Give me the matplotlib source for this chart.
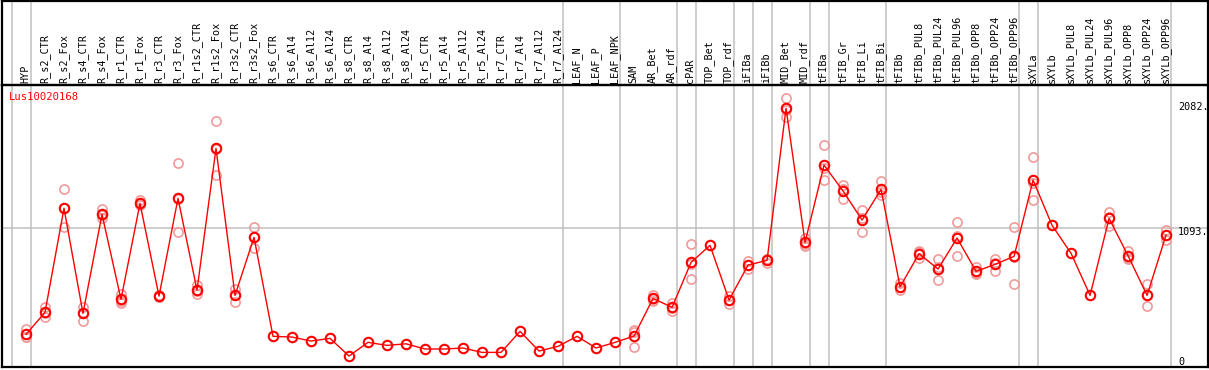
import matplotlib
matplotlib.use("Agg")
import matplotlib.pyplot as plt
from matplotlib.transforms import blended_transform_factory

title = "Lus10020168"
categories = ["HYP", "R_s2_CTR", "R_s2_Fox", "R_s4_CTR", "R_s4_Fox", "R_r1_CTR", "R_r1_Fox",
              "R_r3_CTR", "R_r3_Fox", "R_r1s2_CTR", "R_r1s2_Fox", "R_r3s2_CTR", "R_r3s2_Fox",
              "R_s6_CTR", "R_s6_Al4", "R_s6_Al12", "R_s6_Al24", "R_s8_CTR", "R_s8_Al4",
              "R_s8_Al12", "R_s8_Al24", "R_r5_CTR", "R_r5_Al4", "R_r5_Al12", "R_r5_Al24",
              "R_r7_CTR", "R_r7_Al4", "R_r7_Al12", "R_r7_Al24", "LEAF_N", "LEAF_P", "LEAF_NPK",
              "SAM", "AR_Bet", "AR_rdf", "cPAR", "TOP_Bet", "TOP_rdf", "iFIBa", "iFIBb",
              "MID_Bet", "MID_rdf", "tFIBa", "tFIB_Gr", "tFIB_Li", "tFIB_Bi", "tFIBb",
              "tFIBb_PUL8", "tFIBb_PUL24", "tFIBb_PUL96", "tFIBb_OPP8", "tFIBb_OPP24",
              "tFIBb_OPP96", "sXYLa", "sXYLb", "sXYLb_PUL8", "sXYLb_PUL24", "sXYLb_PUL96",
              "sXYLb_OPP8", "sXYLb_OPP24", "sXYLb_OPP96"]

means = [210, 392, 1254, 384, 1204, 500, 1295, 527, 1336, 577, 1750, 533, 1013,
         194, 188, 155, 177, 31, 144, 119, 132, 89, 89, 97, 61, 61, 235, 72, 111,
         194, 97, 144, 196, 508, 434, 806, 947, 494, 784, 823, 2082, 972, 1612,
         1397, 1157, 1411, 604, 878, 751, 1008, 732, 790, 856, 1488, 1113, 881,
         533, 1171, 861, 533, 1033]

replicates = [[254, 190, 186], [439, 386, 351], [1411, 1254, 1096], [439, 390, 323],
              [1245, 1196, 1171], [544, 484, 472], [1322, 1290, 1281], [535, 527, 520],
              [1626, 1327, 1055], [619, 570, 542], [1974, 1747, 1529], [585, 540, 475],
              [1099, 1018, 922],
              [], [], [], [], [], [], [], [], [], [], [], [], [], [], [], [],
              [], [], [],
              [246, 227, 108], [536, 500, 489], [467, 430, 406], [956, 796, 666],
              [], [527, 496, 459], [817, 784, 751], [831, 835, 803],
              [2164, 2070, 2012], [1010, 962, 944], [1778, 1585, 1488],
              [1447, 1415, 1328], [1240, 1175, 1055], [1480, 1390, 1364],
              [633, 600, 577], [900, 890, 845], [831, 765, 657], [1138, 1025, 861],
              [770, 720, 707], [834, 800, 737], [1096, 848, 624], [1676, 1466, 1322],
              [], [], [], [1220, 1180, 1110], [903, 835, 845], [624, 533, 442],
              [1074, 1033, 991]]

group_sizes = [1, 28, 3, 3, 1, 2, 1, 1, 2, 1, 3, 7, 1, 7]
grid_value = 1093
max_value = 2082

W, H = 1209, 370
fig = plt.figure(figsize=(W / 100, H / 100), dpi=100)

L, R, T, B = 1.5, 1207.5, 85, 367
ax = fig.add_axes([L / W, (H - B) / H, (R - L) / W, (B - T) / H])
hd = fig.add_axes([L / W, (H - T) / H, (R - L) / W, (T - 0.8) / H])
hd.patch.set_visible(False)

n = len(categories)
xs = list(range(n))
xlim = (-1.289, 62.18)
ylim = (-60, 2275)
for a in (ax, hd):
    a.set_xlim(*xlim)
    a.set_xticks([])
    a.set_yticks([])
    for s in a.spines.values():
        s.set_color("black")
        s.set_linewidth(1.6)
ax.set_ylim(*ylim)
hd.set_ylim(0, T - 0.8)

# group separators
bounds = [-1]
acc = -1
for g in group_sizes:
    acc += g
    bounds.append(acc)
for b in bounds:
    for a in (ax, hd):
        a.axvline(b + 0.25, color="#c0c0c0", lw=1.1, zorder=0)

ax.axhline(grid_value, color="#c0c0c0", lw=1.1, zorder=0)

# replicates
for i, reps in enumerate(replicates):
    if reps:
        ax.plot([i] * len(reps), reps, linestyle="none", marker="o", ms=6.6,
                mfc="none", mec="#f09a9a", mew=1.2, zorder=2)

ax.plot(xs, means, color="red", lw=1.0, zorder=3)
ax.plot(xs, means, linestyle="none", marker="o", ms=6.8, mfc="none",
        mec="red", mew=1.5, zorder=4)

mono = "DejaVu Sans Mono"
for i, c in enumerate(categories):
    hd.text(i - 0.03, 2.0, c, rotation=90, ha="center", va="bottom",
            fontsize=7.3, family=mono, zorder=5)

ax.text(-0.9, 2175, title, color="red", fontsize=7.6, family=mono,
        ha="left", va="center")

xr = 60.63
ax.text(xr, max_value + 13, f"{max_value}.", fontsize=7.3, family=mono, ha="left", va="center")
ax.text(xr, grid_value - 36, f"{grid_value}.", fontsize=7.3, family=mono, ha="left", va="center")
ax.text(xr, -19, "0", fontsize=7.3, family=mono, ha="left", va="center")

fig.savefig("out.png", dpi=100)
